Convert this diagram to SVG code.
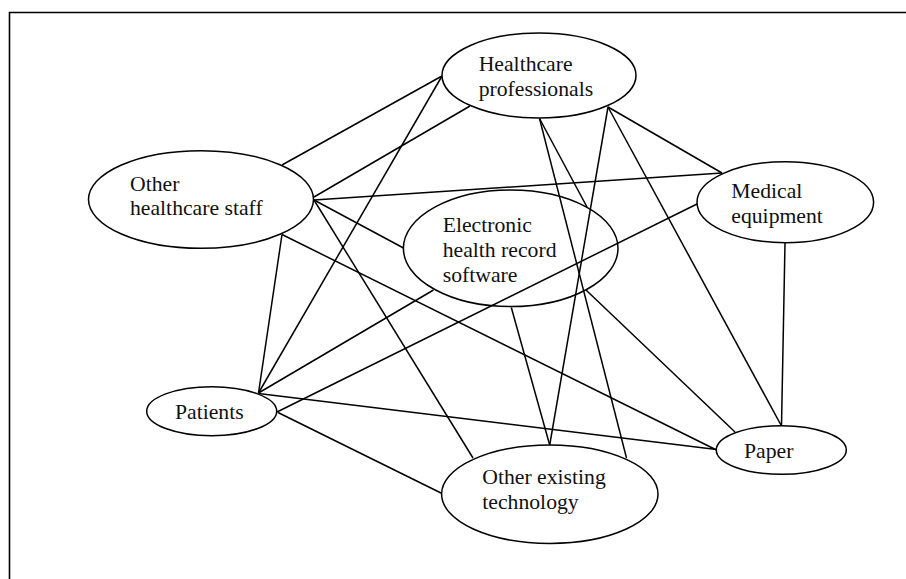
<svg xmlns="http://www.w3.org/2000/svg" width="906" height="579" viewBox="0 0 906 579">
<style>
.frame{fill:none;stroke:#000;stroke-width:1.6}
.node ellipse{fill:#fff;stroke:#000;stroke-width:1.5}
.node ellipse.open{fill:none}
.node text{font-family:"Liberation Serif","Times New Roman","DejaVu Serif",serif;font-size:21.7px;fill:#111}
#connectors line{stroke:#000;stroke-width:1.5}
</style>
<rect width="906" height="579" fill="#fff"/>
<path class="frame" d="M9.5,579 V12.5 H906"/>
<g id="connectors">
<line x1="282" y1="165" x2="442" y2="76"/>
<line x1="314" y1="197" x2="470" y2="106"/>
<line x1="314" y1="200" x2="722" y2="173"/>
<line x1="314" y1="200" x2="403.5" y2="248"/>
<line x1="314" y1="200" x2="473" y2="458"/>
<line x1="282" y1="234.5" x2="258.5" y2="393"/>
<line x1="282" y1="234.5" x2="716.5" y2="450"/>
<line x1="442" y1="76" x2="258.5" y2="393"/>
<line x1="539.5" y1="118.5" x2="587" y2="207"/>
<line x1="539.5" y1="118.5" x2="626.5" y2="458"/>
<line x1="608" y1="107" x2="549.7" y2="445"/>
<line x1="608" y1="107" x2="722" y2="173"/>
<line x1="608" y1="107" x2="781.5" y2="426"/>
<line x1="433.5" y1="290" x2="258.5" y2="393"/>
<line x1="511.3" y1="307.5" x2="549.7" y2="445"/>
<line x1="586" y1="290" x2="735" y2="432"/>
<line x1="697" y1="204" x2="277" y2="412"/>
<line x1="785" y1="243" x2="781.5" y2="426"/>
<line x1="258.5" y1="393.5" x2="716.5" y2="449.5"/>
<line x1="278" y1="412.5" x2="442" y2="493.5"/>
</g>
<g id="node-hp" class="node">
<ellipse cx="539" cy="75.5" rx="97" ry="42.5"/>
<text x="478.7" y="70.5" font-family="Liberation Serif, serif">Healthcare</text>
<text x="478.7" y="95.5" font-family="Liberation Serif, serif">professionals</text>
</g>
<g id="node-os" class="node">
<ellipse cx="201" cy="199.5" rx="112.5" ry="48.8"/>
<text x="130" y="190.5">Other</text>
<text x="130" y="215">healthcare staff</text>
</g>
<g id="node-ehr" class="node">
<ellipse class="open" cx="510.7" cy="248.3" rx="107.3" ry="58.3"/>
<text x="442.7" y="232.3">Electronic</text>
<text x="442.7" y="257.3">health record</text>
<text x="442.7" y="282">software</text>
</g>
<g id="node-me" class="node">
<ellipse cx="785.3" cy="202.2" rx="88.3" ry="40.5"/>
<text x="731.3" y="198.3">Medical</text>
<text x="731.3" y="222.7">equipment</text>
</g>
<g id="node-pat" class="node">
<ellipse cx="211.7" cy="411.2" rx="65" ry="24.5"/>
<text x="175" y="419.3">Patients</text>
</g>
<g id="node-paper" class="node">
<ellipse cx="781.3" cy="450" rx="65" ry="24.3"/>
<text x="744" y="458.3">Paper</text>
</g>
<g id="node-oet" class="node">
<ellipse cx="549.8" cy="494.2" rx="108.2" ry="49.2"/>
<text x="482.3" y="484">Other existing</text>
<text x="482.3" y="509">technology</text>
</g>
</svg>
